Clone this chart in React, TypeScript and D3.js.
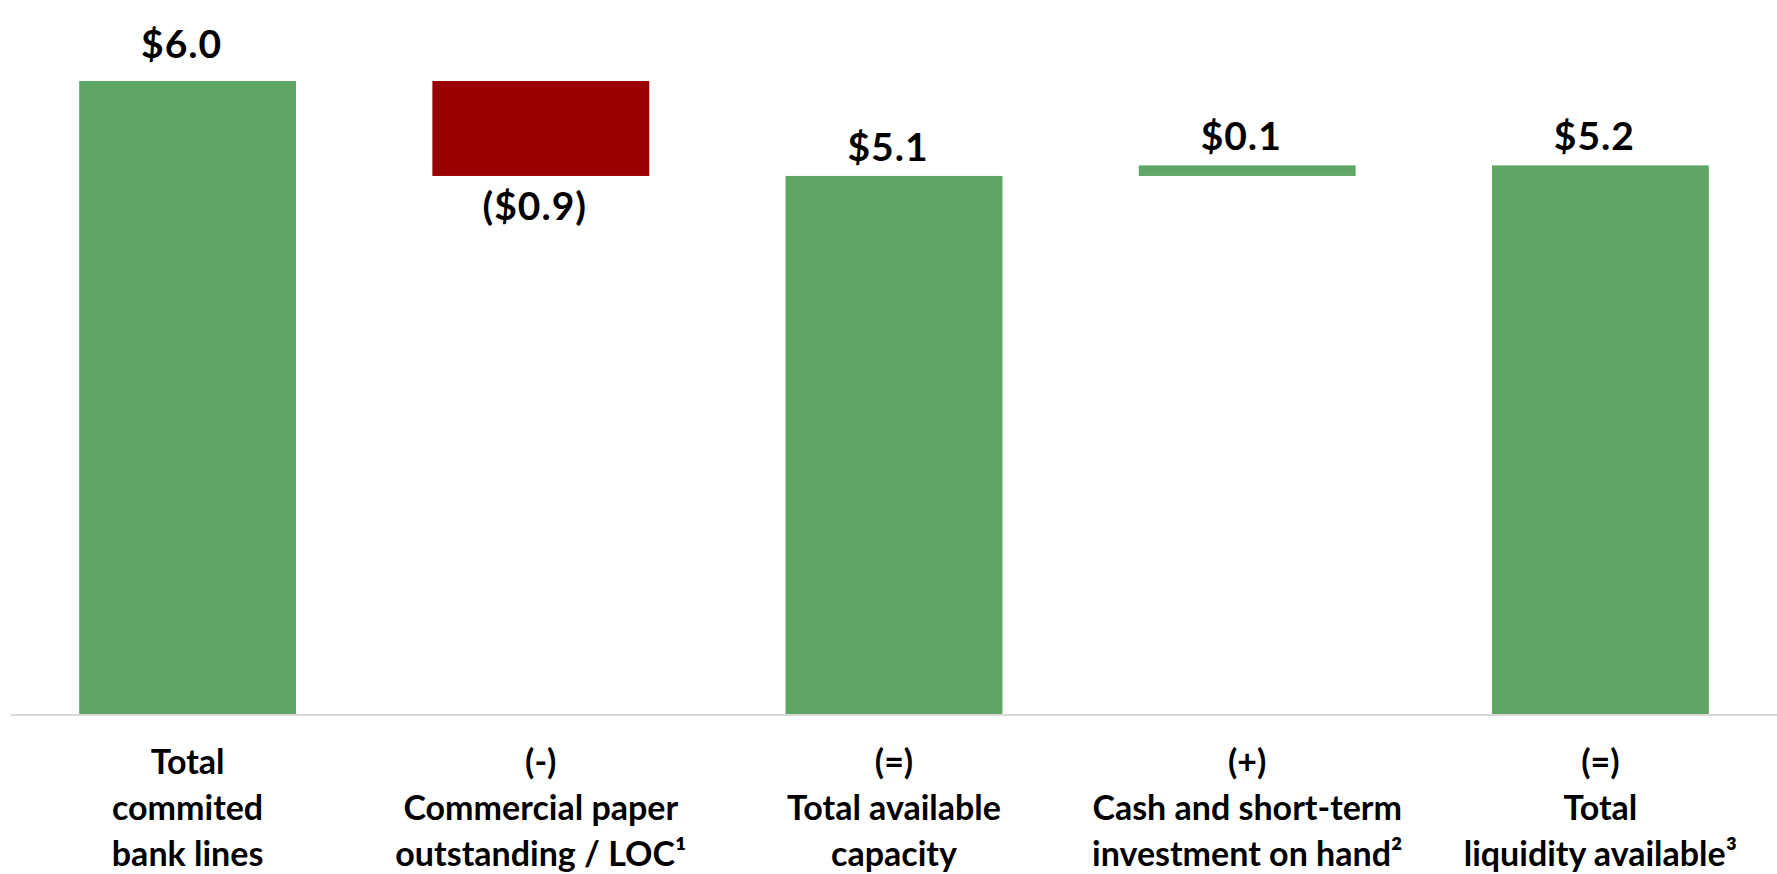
import * as d3 from "d3"
import React from "react"

const width = 1777
const height = 874

// liquidity bridge, $ billions
const categories = ["bank", "cp", "avail", "cash", "total"]
const labelLines = [
  ["Total", "commited", "bank lines"],
  ["(-)", "Commercial paper", "outstanding / LOC¹"],
  ["(=)", "Total available", "capacity"],
  ["(+)", "Cash and short-term", "investment on hand²"],
  ["(=)", "Total", "liquidity available³"],
]
const starts = [0, 6.0, 0, 5.1, 0]
const ends = [6.0, 5.1, 5.1, 5.2, 5.2]
const valueLabels = ["$6.0", "($0.9)", "$5.1", "$0.1", "$5.2"]

const green = "#5fa564"
const red = "#990000"
const font = "Lato, 'Open Sans', sans-serif"

export default function App() {
  const x = d3.scaleBand().domain(categories).range([11, width]).paddingInner(0.386).paddingOuter(0.193)
  const y = d3.scaleLinear().domain([0, 6]).range([714, 81])

  return (
    <div style={{ position: "absolute", left: 0, top: 0 }}>
      <svg width={width} height={height} style={{ display: "block", background: "#fff" }}>
        {categories.map((c, i) => {
          const top = y(Math.max(starts[i], ends[i]))
          const bottom = y(Math.min(starts[i], ends[i]))
          const neg = ends[i] < starts[i]
          const cx = x(c)! + x.bandwidth() / 2
          const gap = i === 0 ? 23 : 15
          return (
            <g key={c}>
              <rect x={x(c)} y={top} width={x.bandwidth()} height={bottom - top} fill={neg ? red : green} />
              <text
                x={cx - 6}
                y={neg ? bottom + 44 : top - gap}
                textAnchor="middle"
                fontFamily={font}
                fontWeight="bold"
                fontSize={39}
                letterSpacing={1}
                fill="#000"
              >{valueLabels[i]}</text>
              {labelLines[i].map((line, j) => (
                <text
                  key={j}
                  x={cx}
                  y={774 + j * 46}
                  textAnchor="middle"
                  fontFamily={font}
                  fontWeight="bold"
                  fontSize={34}
                  fill="#000"
                >{line}</text>
              ))}
            </g>
          )
        })}
        <line x1={11} x2={width} y1={y(0) + 1} y2={y(0) + 1} stroke="#d9d9d9" strokeWidth={2} />
      </svg>
    </div>
  )
}
